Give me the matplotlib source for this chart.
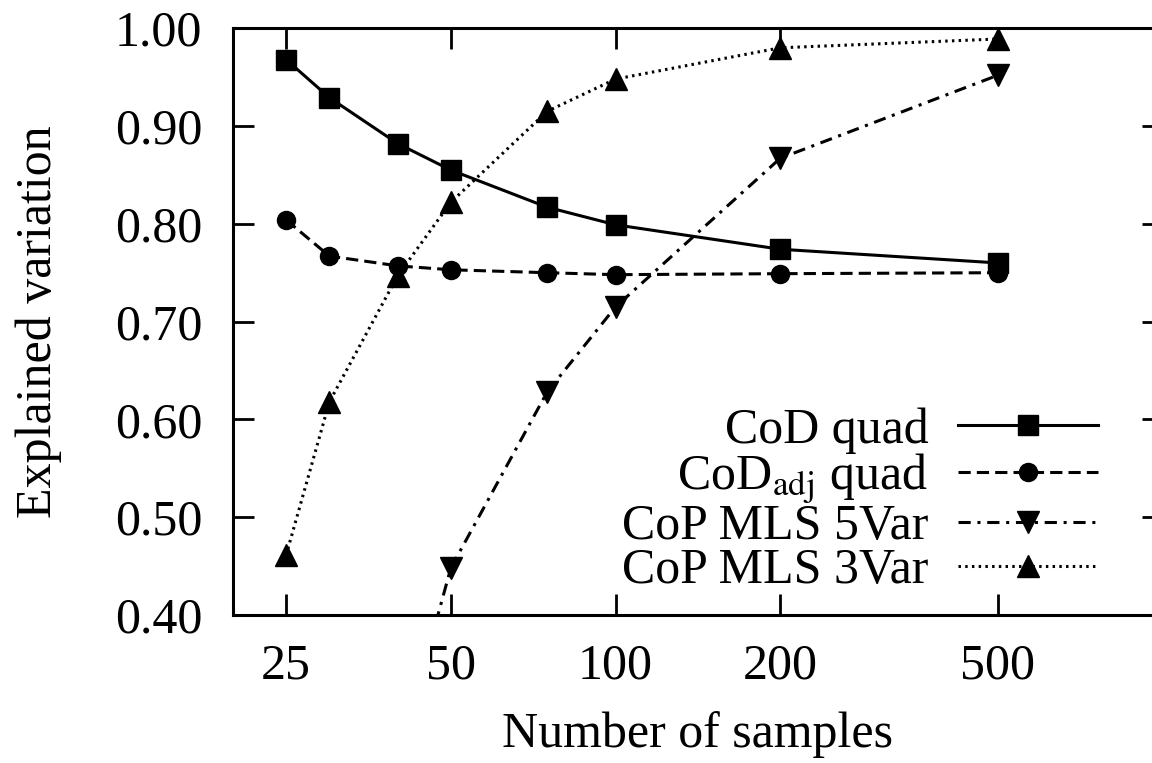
import matplotlib
matplotlib.use("Agg")
import matplotlib.pyplot as plt
from matplotlib.ticker import FixedLocator, NullLocator, FixedFormatter

# samples on the x axis
samples = [25, 30, 40, 50, 75, 100, 200, 500]
cod_quad = [0.968, 0.929, 0.882, 0.855, 0.817, 0.799, 0.774, 0.760]
cod_adj_quad = [0.804, 0.767, 0.757, 0.753, 0.750, 0.748, 0.749, 0.750]
samples_5var = [40, 50, 75, 100, 200, 500]
cop_mls_5var = [0.25, 0.448, 0.628, 0.715, 0.867, 0.952]
cop_mls_3var = [0.461, 0.618, 0.747, 0.822, 0.915, 0.948, 0.980, 0.989]

xticks = [25, 50, 100, 200, 500]
yticks = [0.40, 0.50, 0.60, 0.70, 0.80, 0.90, 1.00]

plt.rcParams['font.family'] = ['Liberation Serif', 'DejaVu Serif']
plt.rcParams['mathtext.fontset'] = 'stix'
fs = 36

fig = plt.figure(figsize=(11.52, 7.63), dpi=100)
ax = fig.add_axes([0.2023, 0.194, 0.807, 0.769])

lw = 2.2
ax.plot(samples, cod_quad, color='black', lw=lw, marker='s', ms=14,
        label='CoD quad')
ax.plot(samples, cod_adj_quad, color='black', lw=lw, marker='o', ms=13,
        dashes=(4, 2), label='CoD$_\\mathrm{adj}$ quad')
ax.plot(samples_5var, cop_mls_5var, color='black', lw=lw, marker='v', ms=16,
        dashes=(4, 2.2, 1, 2.2), label='CoP MLS 5Var')
ax.plot(samples, cop_mls_3var, color='black', lw=lw, marker='^', ms=16,
        dashes=(0.8, 1.4), label='CoP MLS 3Var')

ax.set_xscale('log')
ax.set_xlim(20, 1000)
ax.set_ylim(0.40, 1.00)
ax.xaxis.set_major_locator(FixedLocator(xticks))
ax.xaxis.set_major_formatter(FixedFormatter([str(t) for t in xticks]))
ax.xaxis.set_minor_locator(NullLocator())
ax.set_yticks(yticks)
ax.set_yticklabels(['%.2f' % t for t in yticks])

ax.tick_params(which='major', direction='in', length=15, width=2,
               top=True, right=True, labelsize=fs)
ax.tick_params(axis='y', pad=22)
ax.tick_params(axis='x', pad=20)
for s in ax.spines.values():
    s.set_linewidth(2.2)

ax.set_xlabel('Number of samples', fontsize=fs, labelpad=16)
ax.set_ylabel('Explained variation', fontsize=fs, labelpad=38)

leg = ax.legend(loc='lower right', bbox_to_anchor=(0.947, 0.01),
                frameon=False, markerfirst=False, fontsize=fs,
                handlelength=2.8, handletextpad=0.6, labelspacing=-0.05,
                borderpad=0.1, borderaxespad=0.2)

fig.savefig('out.png', dpi=100)
